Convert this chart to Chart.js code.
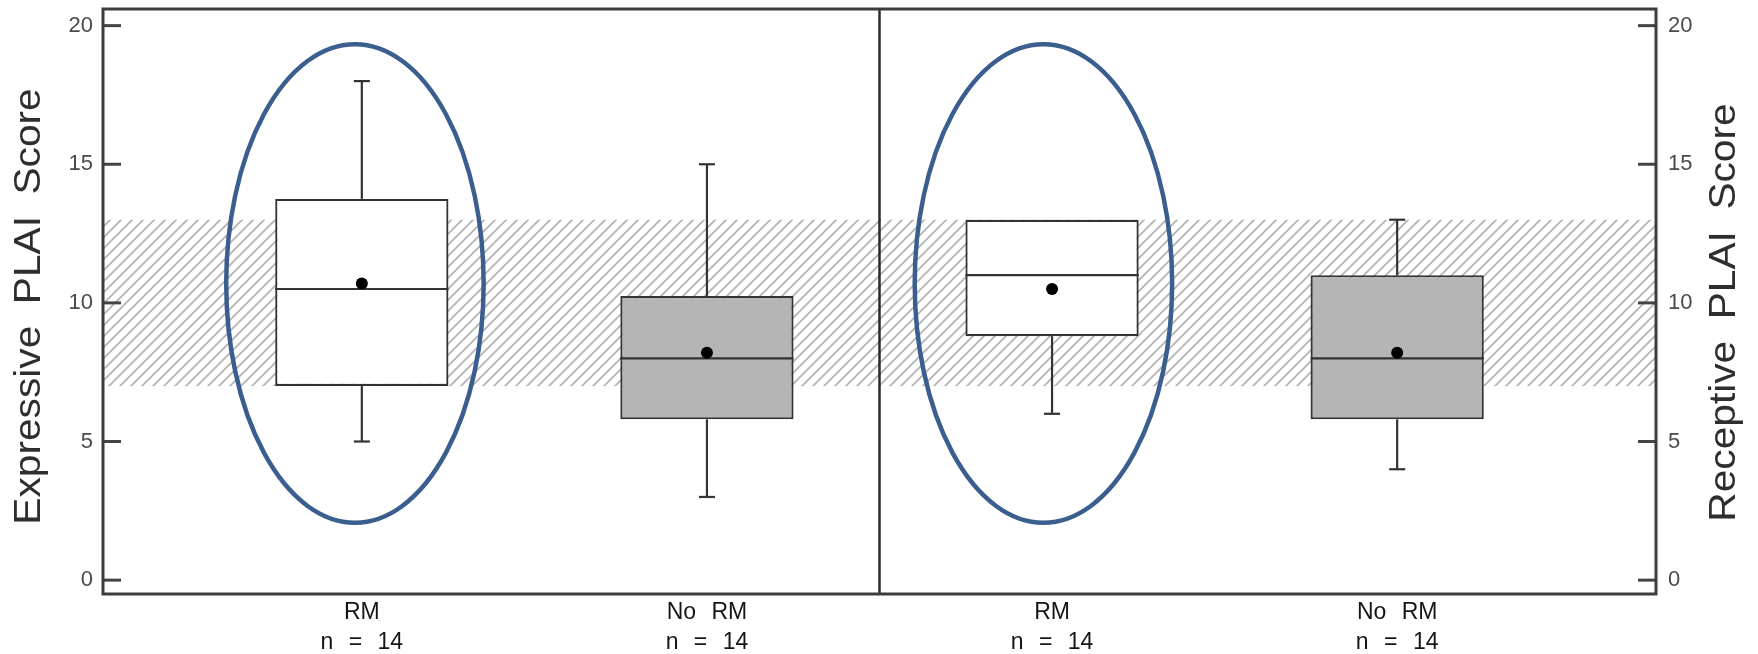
<!DOCTYPE html>
<html><head><meta charset="utf-8">
<script src="https://cdn.jsdelivr.net/npm/chart.js@4.4.1/dist/chart.umd.min.js"></script>
<style>html,body{margin:0;padding:0;background:#fff;} #wrap{width:1758px;height:654px;}</style>
</head><body><div id="wrap"><canvas id="c" width="1758" height="654"></canvas></div>
<script>
// ---- data ----
const categories = [["RM", "n = 14"], ["No RM", "n = 14"], ["RM", "n = 14"], ["No RM", "n = 14"]];
const positions = [1, 2, 3, 4];
const whiskerLow = [5, 3, 6, 4];
const q1 = [7, 5.8, 8.8, 5.8];
const median = [10.5, 8, 11, 8];
const q3 = [13.75, 10.25, 13, 11];
const whiskerHigh = [18, 15, 13, 13];
const means = [10.7, 8.2, 10.5, 8.2];
const groupRM = [true, false, true, false];
const yTicks = [0, 5, 10, 15, 20];
const normalBand = [7, 13];
const dividerAt = 2.5;
const yTitleLeft = "Expressive PLAI Score";
const yTitleRight = "Receptive PLAI Score";
const highlightCenters = [[0.98, 10.7], [2.975, 10.7]];
const highlightRadii = [0.373, 8.63];

// ---- hatch pattern ----
function makeHatch() {
  const s = 11;
  const c = document.createElement('canvas'); c.width = s; c.height = s;
  const g = c.getContext('2d');
  g.strokeStyle = '#b4b4b4'; g.lineWidth = 1.8; g.lineCap = 'square';
  g.beginPath();
  g.moveTo(0, s); g.lineTo(s, 0);
  g.moveTo(-2, 2); g.lineTo(2, -2);
  g.moveTo(s - 2, s + 2); g.lineTo(s + 2, s - 2);
  g.stroke();
  return c;
}
const hatchCanvas = makeHatch();

function seg(ctx, x1, y1, x2, y2) { ctx.beginPath(); ctx.moveTo(x1, y1); ctx.lineTo(x2, y2); ctx.stroke(); }

function vTitle(ctx, text, cx, cy) {
  ctx.save();
  ctx.translate(cx, cy); ctx.rotate(-Math.PI / 2); ctx.scale(1.13, 1);
  ctx.font = '36px "Liberation Sans", Arial, sans-serif';
  ctx.fillStyle = '#2e2e2e'; ctx.textAlign = 'center'; ctx.textBaseline = 'middle';
  ctx.fillText(text, 0, 0);
  ctx.restore();
}

const boxParts = {
  id: 'boxParts',
  beforeDraw(chart) { chart.ctx.wordSpacing = '9px'; },
  beforeDatasetsDraw(chart) {
    const { ctx, chartArea: a, scales: { y } } = chart;
    const top = y.getPixelForValue(normalBand[1]), bot = y.getPixelForValue(normalBand[0]);
    ctx.save();
    ctx.fillStyle = ctx.createPattern(hatchCanvas, 'repeat');
    ctx.fillRect(a.left, top, a.right - a.left, bot - top);
    ctx.restore();
  },
  afterDatasetDraw(chart, args) {
    if (args.index !== 0) return;
    const { ctx, scales: { x, y } } = chart;
    const meta = chart.getDatasetMeta(0);
    ctx.save();
    ctx.strokeStyle = '#333'; ctx.lineWidth = 2.2;
    positions.forEach((p, i) => {
      const half = meta.data[i].width / 2;
      const cx = x.getPixelForValue(p);
      const ym = y.getPixelForValue(median[i]);
      seg(ctx, cx - half, ym, cx + half, ym);
      const yq3 = y.getPixelForValue(q3[i]), yhi = y.getPixelForValue(whiskerHigh[i]);
      const yq1 = y.getPixelForValue(q1[i]), ylo = y.getPixelForValue(whiskerLow[i]);
      if (whiskerHigh[i] > q3[i]) { seg(ctx, cx, yq3, cx, yhi); seg(ctx, cx - 8, yhi, cx + 8, yhi); }
      if (whiskerLow[i] < q1[i]) { seg(ctx, cx, yq1, cx, ylo); seg(ctx, cx - 8, ylo, cx + 8, ylo); }
    });
    ctx.restore();
  },
  afterDatasetsDraw(chart) {
    const { ctx, chartArea: a, scales: { x, y, y2 } } = chart;
    ctx.save();
    ctx.strokeStyle = '#444'; ctx.lineWidth = 3;
    yTicks.forEach(v => {
      const py = y.getPixelForValue(v);
      seg(ctx, a.left, py, a.left + 18, py);
      const py2 = y2.getPixelForValue(v);
      seg(ctx, a.right - 18, py2, a.right, py2);
    });
    ctx.strokeStyle = '#2a2a2a'; ctx.lineWidth = 2.5;
    const dx = x.getPixelForValue(dividerAt);
    seg(ctx, dx, a.top, dx, a.bottom);
    ctx.strokeStyle = '#3c3c3c'; ctx.lineWidth = 3;
    ctx.strokeRect(a.left, a.top, a.right - a.left, a.bottom - a.top);
    ctx.strokeStyle = '#3a5e8d'; ctx.lineWidth = 4.5;
    highlightCenters.forEach(c => {
      const cx = x.getPixelForValue(c[0]), cy = y.getPixelForValue(c[1]);
      const rx = x.getPixelForValue(c[0] + highlightRadii[0]) - cx;
      const ry = cy - y.getPixelForValue(c[1] + highlightRadii[1]);
      ctx.beginPath(); ctx.ellipse(cx, cy, rx, ry, 0, 0, Math.PI * 2); ctx.stroke();
    });
    ctx.restore();
  },
  afterDraw(chart) {
    const { ctx, chartArea: a } = chart;
    const cy = (a.top + a.bottom) / 2 + 5;
    vTitle(ctx, yTitleLeft, 30, cy);
    vTitle(ctx, yTitleRight, 1725, cy + 6);
  }
};

const tickFont = { size: 22, family: '"Liberation Sans", Arial, sans-serif' };
function noPad(s) { s.paddingTop = 0; s.paddingBottom = 0; s.paddingLeft = 0; s.paddingRight = 0; }

new Chart(document.getElementById('c'), {
  type: 'bar',
  data: {
    datasets: [
      {
        type: 'bar',
        data: positions.map((p, i) => ({ x: p, y: [q1[i], q3[i]] })),
        backgroundColor: groupRM.map(r => r ? '#ffffff' : '#b5b5b5'),
        borderColor: '#333', borderWidth: 2.2, borderSkipped: false,
        barPercentage: 0.502, categoryPercentage: 1,
        yAxisID: 'y', order: 2
      },
      {
        type: 'scatter',
        data: positions.map((p, i) => ({ x: p, y: means[i] })),
        pointRadius: 6, pointBackgroundColor: '#000', pointBorderWidth: 0,
        yAxisID: 'y', order: 0
      }
    ]
  },
  options: {
    responsive: false, animation: false, devicePixelRatio: 1,
    layout: { padding: { top: 9, left: 0, right: 0, bottom: 0 } },
    plugins: { legend: { display: false }, tooltip: { enabled: false } },
    scales: {
      x: {
        type: 'linear', min: 0.25, max: 4.75, offset: false,
        afterBuildTicks: s => { s.ticks = positions.map(v => ({ value: v })); },
        ticks: {
          callback: (v, i) => categories[i],
          font: { size: 23, family: '"Liberation Sans", Arial, sans-serif', lineHeight: 1.33 },
          color: '#151515', padding: 3, maxRotation: 0, autoSkip: false
        },
        grid: { display: false, drawTicks: false }, border: { display: false },
        afterFit: s => { s.height = 60; noPad(s); }
      },
      y: {
        type: 'linear', position: 'left', min: -0.5, max: 20.6,
        afterBuildTicks: s => { s.ticks = yTicks.map(v => ({ value: v })); },
        ticks: { font: tickFont, color: '#4a4a4a', padding: 10 },
        grid: { display: false, drawTicks: false }, border: { display: false },
        afterFit: s => { s.width = 103; noPad(s); }
      },
      y2: {
        type: 'linear', position: 'right', min: -0.5, max: 20.6,
        afterBuildTicks: s => { s.ticks = yTicks.map(v => ({ value: v })); },
        ticks: { font: tickFont, color: '#4a4a4a', padding: 12 },
        grid: { display: false, drawTicks: false }, border: { display: false },
        afterFit: s => { s.width = 102; noPad(s); }
      }
    }
  },
  plugins: [boxParts]
});
</script></body></html>
